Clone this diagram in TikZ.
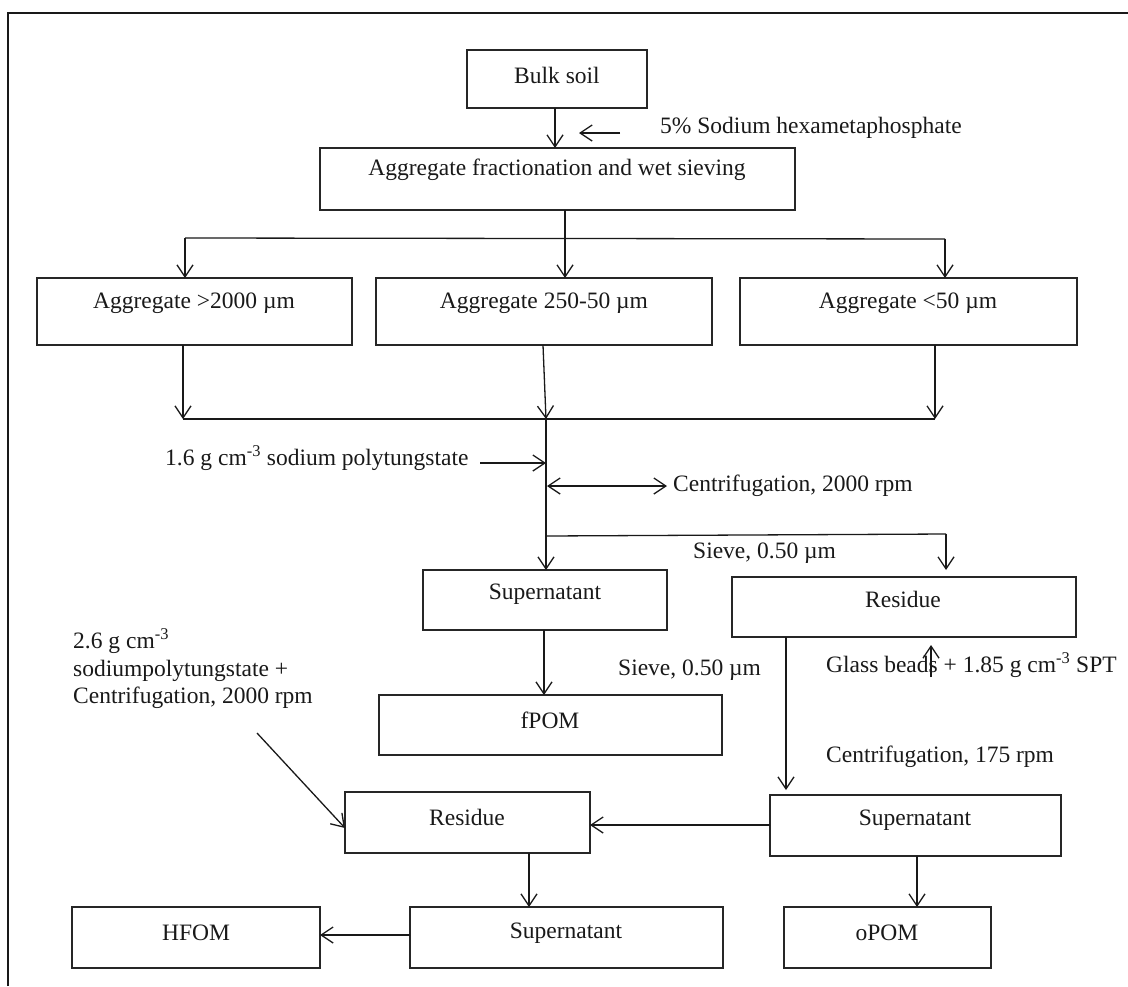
\documentclass[tikz,border=0pt]{standalone}
\usepackage{fontspec}
\setmainfont{Liberation Serif}
\usetikzlibrary{arrows.meta,calc}
\begin{document}
\begin{tikzpicture}[x=1pt,y=-1pt,
  box/.style={draw=black!85, line width=1.2pt, rectangle, inner sep=0pt, outer sep=0pt},
  txt/.style={font=\fontsize{23.5}{27.5}\selectfont, inner sep=0pt, text=black!90},
  arr/.style={line width=1.3pt, draw=black!90, -{Straight Barb[length=12pt,width=16pt,line width=1.3pt]}},
  darr/.style={line width=1.3pt, draw=black!90, {Straight Barb[length=12pt,width=16pt,line width=1.3pt]}-{Straight Barb[length=12pt,width=16pt,line width=1.3pt]}},
  ln/.style={line width=1.3pt, draw=black!90},
  frame/.style={line width=2pt, draw=black!90}
]
\useasboundingbox (0,0) rectangle (1128,986);
% frame
\coordinate (f1) at (8,986);
\coordinate (f2) at (8,13);
\coordinate (f3) at (1128,13);
\draw[frame] (f1) -- (f2) -- (f3);

% boxes
\node[box, minimum width=180pt, minimum height=58pt] (bulk) at (557,79) {};
\node[box, minimum width=475pt, minimum height=62pt] (frac) at (557.5,179) {};
\node[box, minimum width=315pt, minimum height=67pt] (a1) at (194.5,311.5) {};
\node[box, minimum width=336pt, minimum height=67pt] (a2) at (544,311.5) {};
\node[box, minimum width=337pt, minimum height=67pt] (a3) at (908.5,311.5) {};
\node[box, minimum width=244pt, minimum height=60pt] (sup1) at (545,600) {};
\node[box, minimum width=344pt, minimum height=60pt] (res1) at (904,607) {};
\node[box, minimum width=343pt, minimum height=60pt] (fpom) at (550.5,725) {};
\node[box, minimum width=245pt, minimum height=61pt] (res2) at (467.5,822.5) {};
\node[box, minimum width=291pt, minimum height=61pt] (sup2) at (915.5,825.5) {};
\node[box, minimum width=248pt, minimum height=61pt] (hfom) at (196,937.5) {};
\node[box, minimum width=313pt, minimum height=61pt] (sup3) at (566.5,937.5) {};
\node[box, minimum width=207pt, minimum height=61pt] (opom) at (887.5,937.5) {};

% box texts
\node[txt] (tbulk) at (557,75) {Bulk soil};
\node[txt] (tfrac) at (557,170) {Aggregate fractionation and wet sieving};
\node[txt] (ta1) at (194,303) {Aggregate >2000 µm};
\node[txt] (ta2) at (544,303) {Aggregate 250-50 µm};
\node[txt] (ta3) at (908,303) {Aggregate <50 µm};
\node[txt] (tsup1) at (545,594) {Supernatant};
\node[txt] (tres1) at (903,599) {Residue};
\node[txt] (tfpom) at (550,720) {fPOM};
\node[txt] (tres2) at (467,817) {Residue};
\node[txt] (tsup2) at (915,820) {Supernatant};
\node[txt] (thfom) at (196,933) {HFOM};
\node[txt] (tsup3) at (566,933) {Supernatant};
\node[txt] (topom) at (887,933) {oPOM};

% free labels
\node[txt, anchor=west] (lhex) at (660,128) {5\% Sodium hexametaphosphate};
\node[txt, anchor=west] (lspt) at (165,458) {1.6 g cm\textsuperscript{-3} sodium polytungstate};
\node[txt, anchor=west] (lcen1) at (673,486) {Centrifugation, 2000 rpm};
\node[txt, anchor=west] (lsieve1) at (693,553) {Sieve, 0.50 µm};
\node[txt, anchor=west] (lsieve2) at (618,670) {Sieve, 0.50 µm};
\node[txt, anchor=west] (lglass) at (826,665) {Glass beads + 1.85 g cm\textsuperscript{-3} SPT};
\node[txt, anchor=west] (lcen2) at (826,757) {Centrifugation, 175 rpm};
\node[txt, anchor=west, align=left] (lspt2) at (73,669) {2.6 g cm\textsuperscript{-3}\\sodiumpolytungstate +\\Centrifugation, 2000 rpm};

% connectors
\draw[arr] (bulk.south -| 555,0) -- (frac.north -| 555,0);
\coordinate (hx1) at (620,133);
\coordinate (hx2) at (579,133);
\draw[arr] (hx1) -- (hx2);

\coordinate (m1) at (565,238);
\draw[arr] (frac.south -| m1) -- (a2.north -| m1);
\coordinate (j1) at (185,238);
\coordinate (j3) at (945,239);
\draw[ln] (j1) -- (j3);
\draw[arr] (j1) -- (a1.north -| j1);
\draw[arr] (j3) -- (a3.north -| j3);

\coordinate (k1) at (183,419);
\coordinate (k2) at (546,419);
\coordinate (k3) at (935,419);
\draw[ln] (k1) -- (k3);
\draw[arr] (a1.south -| k1) -- (k1);
\draw[arr] (a2.south -| 543,0) -- (k2);
\draw[arr] (a3.south -| k3) -- (k3);

\draw[arr] (k2) -- (sup1.north -| k2);
\coordinate (p1) at (480,463);
\coordinate (p2) at (546,463);
\draw[arr] (p1) -- (p2);
\coordinate (c1) at (547,486);
\coordinate (c2) at (667,486);
\draw[darr] (c1) -- (c2);

\coordinate (s1) at (546,536);
\coordinate (s2) at (946,534);
\draw[ln] (s1) -- (s2);
\draw[arr] (s2) -- ([yshift=7pt]res1.north -| s2);

\draw[arr] (sup1.south -| 544,0) -- (fpom.north -| 544,0);

\coordinate (g1) at (931,677);
\draw[arr] (g1) -- ([yshift=-8pt]res1.south -| g1);

\coordinate (r1) at (786,637);
\draw[arr] (res1.south -| r1) -- ([yshift=5pt]sup2.north -| r1);

\draw[arr] (sup2.west |- 0,825) -- (res2.east |- 0,825);

\coordinate (d1) at (257,733);
\draw[arr] (d1) -- (345,828);

\draw[arr] (res2.south -| 529,0) -- (sup3.north -| 529,0);
\draw[arr] (sup2.south -| 917,0) -- (opom.north -| 917,0);
\draw[arr] (sup3.west |- 0,935) -- (hfom.east |- 0,935);
\end{tikzpicture}
\end{document}
